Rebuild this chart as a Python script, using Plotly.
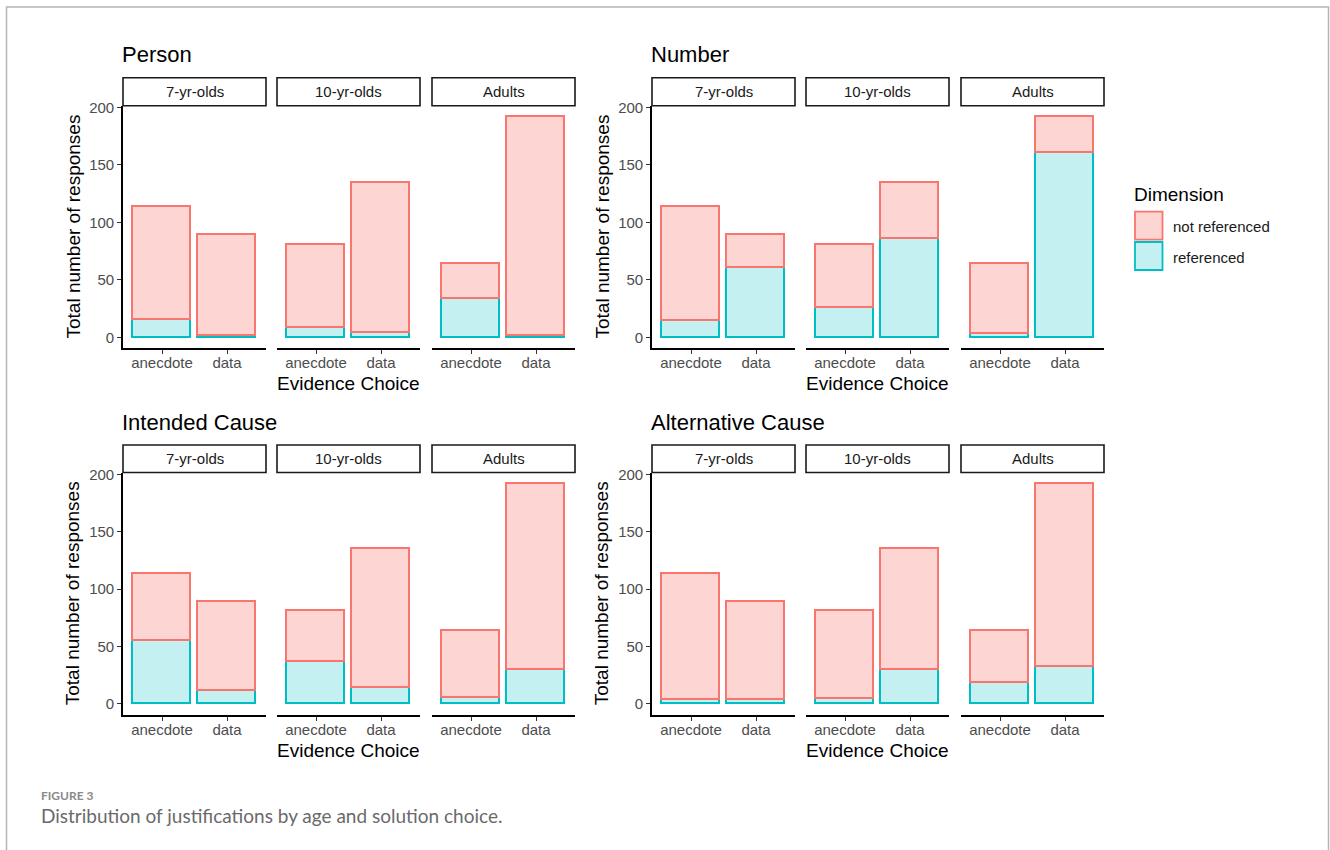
import plotly.graph_objects as go

# ---------------- data ----------------
panels = ["Person", "Number", "Intended Cause", "Alternative Cause"]
age_groups = ["7-yr-olds", "10-yr-olds", "Adults"]
evidence = ["anecdote", "data"]
legend_labels = ["not referenced", "referenced"]

# total responses per age group, [anecdote, data]
totals = {
    "7-yr-olds": [114, 89],
    "10-yr-olds": [81, 135],
    "Adults": [64, 192],
}

# number of "referenced" responses per panel / age group, [anecdote, data]
ref_person = {"7-yr-olds": [15, 1], "10-yr-olds": [8, 4], "Adults": [34, 1]}
ref_number = {"7-yr-olds": [14, 61], "10-yr-olds": [26, 86], "Adults": [3, 161]}
ref_intended = {"7-yr-olds": [55, 12], "10-yr-olds": [37, 14], "Adults": [6, 30]}
ref_alternative = {"7-yr-olds": [4, 4], "10-yr-olds": [5, 30], "Adults": [19, 33]}
referenced = [ref_person, ref_number, ref_intended, ref_alternative]

y_ticks = [0, 50, 100, 150, 200]

# ---------------- styling ----------------
W, H = 1330, 850
RED_LINE = "#F8766D"
RED_FILL = "rgba(248,118,109,0.30)"
CYAN_LINE = "#00BFC4"
CYAN_FILL = "rgba(0,191,196,0.23)"
FONT = "Liberation Sans, Arial, sans-serif"
TICK_COLOR = "#4d4d4d"


def px(x):
    return x / W


def py(y):
    return 1 - y / H


# pixel layout (top, bottom)
col_facets = [[(123, 266), (277, 420), (432, 575)],
              [(652, 795), (806, 949), (961, 1104)]]
row_plot = [(105.7, 348.3), (472.5, 715)]
row_strip = [(77.7, 105.7), (445, 472.5)]
row_title_y = [55, 422.5]
xtitle_y = [383, 750]

fig = go.Figure()
layout_axes = {}
shapes = []
annotations = []

for p, panel in enumerate(panels):
    row, col = divmod(p, 2)
    for f, age in enumerate(age_groups):
        k = p * 3 + f + 1
        xa = "x" if k == 1 else f"x{k}"
        ya = "y" if k == 1 else f"y{k}"
        x0, x1 = col_facets[col][f]
        ytop, ybot = row_plot[row]
        tot = totals[age]
        ref = referenced[p][age]
        notref = [t - r for t, r in zip(tot, ref)]

        fig.add_trace(go.Bar(
            x=evidence, y=ref, xaxis=xa, yaxis=ya, width=0.9,
            name=legend_labels[1], showlegend=False,
            marker=dict(color=CYAN_FILL, line=dict(color=CYAN_LINE, width=1.6)),
        ))
        fig.add_trace(go.Bar(
            x=evidence, y=notref, xaxis=xa, yaxis=ya, width=0.9,
            name=legend_labels[0], showlegend=False,
            marker=dict(color=RED_FILL, line=dict(color=RED_LINE, width=1.6)),
        ))

        xkey = "xaxis" if k == 1 else f"xaxis{k}"
        ykey = "yaxis" if k == 1 else f"yaxis{k}"
        layout_axes[xkey] = dict(
            domain=[px(x0), px(x1)], anchor=ya, type="category",
            range=[-0.6, 1.6], showline=True, linecolor="black", linewidth=1.6,
            ticks="outside", ticklen=4, tickcolor="#333", tickwidth=1.2,
            tickfont=dict(family=FONT, size=15, color=TICK_COLOR),
            showgrid=False, zeroline=False, fixedrange=True, automargin=False,
        )
        ydict = dict(
            domain=[py(ybot), py(ytop)], anchor=xa, range=[-9.6, 201.6],
            showgrid=False, zeroline=False, fixedrange=True, automargin=False,
        )
        if f == 0:
            ydict.update(
                showline=True, linecolor="black", linewidth=1.6,
                ticks="outside", ticklen=4, tickcolor="#333", tickwidth=1.2,
                tickvals=y_ticks, tickfont=dict(family=FONT, size=15, color=TICK_COLOR),
            )
        else:
            ydict.update(showticklabels=False, showline=False, ticks="")
        layout_axes[ykey] = ydict

        # strip
        s0, s1 = row_strip[row]
        shapes.append(dict(type="rect", xref="paper", yref="paper",
                           x0=px(x0), x1=px(x1), y0=py(s1), y1=py(s0),
                           line=dict(color="#1a1a1a", width=1.6), fillcolor="white"))
        annotations.append(dict(text=age, xref="paper", yref="paper",
                                x=px((x0 + x1) / 2), y=py((s0 + s1) / 2),
                                showarrow=False, xanchor="center", yanchor="middle",
                                font=dict(family=FONT, size=15, color="#1a1a1a")))

    # panel title
    fx0 = col_facets[col][0][0]
    annotations.append(dict(text=panel, xref="paper", yref="paper",
                            x=px(fx0 - 3), y=py(row_title_y[row]),
                            showarrow=False, xanchor="left", yanchor="middle",
                            font=dict(family=FONT, size=22, color="black")))
    # x title
    mx0, mx1 = col_facets[col][1]
    annotations.append(dict(text="Evidence Choice", xref="paper", yref="paper",
                            x=px((mx0 + mx1) / 2), y=py(xtitle_y[row]),
                            showarrow=False, xanchor="center", yanchor="middle",
                            font=dict(family=FONT, size=19, color="black")))
    # y title
    ytop, ybot = row_plot[row]
    annotations.append(dict(text="Total number of responses", xref="paper", yref="paper",
                            x=px(fx0 - 50.5), y=py((ytop + ybot) / 2), textangle=-90,
                            showarrow=False, xanchor="center", yanchor="middle",
                            font=dict(family=FONT, size=19, color="black")))

# legend (drawn)
annotations.append(dict(text="Dimension", xref="paper", yref="paper",
                        x=px(1132), y=py(194), showarrow=False,
                        xanchor="left", yanchor="middle",
                        font=dict(family=FONT, size=19, color="black")))
leg_items = [(legend_labels[0], RED_FILL, RED_LINE, 211.7, 226.7),
             (legend_labels[1], CYAN_FILL, CYAN_LINE, 242, 257)]
for lab, fill, line, ytop, ytext in leg_items:
    shapes.append(dict(type="rect", xref="paper", yref="paper",
                       x0=px(1135), x1=px(1162.5), y0=py(ytop + 28), y1=py(ytop),
                       line=dict(color=line, width=1.8), fillcolor=fill))
    annotations.append(dict(text=lab, xref="paper", yref="paper",
                            x=px(1171), y=py(ytext), showarrow=False,
                            xanchor="left", yanchor="middle",
                            font=dict(family=FONT, size=15, color="#1a1a1a")))

# caption
annotations.append(dict(text="<b>FIGURE 3</b>", xref="paper", yref="paper",
                        x=px(39), y=py(795), showarrow=False,
                        xanchor="left", yanchor="middle",
                        font=dict(family="Lato, sans-serif", size=12, color="#8a8a8a")))
annotations.append(dict(text="Distribution of justifications by age and solution choice.",
                        xref="paper", yref="paper",
                        x=px(39), y=py(815), showarrow=False,
                        xanchor="left", yanchor="middle",
                        font=dict(family="Lato, sans-serif", size=19, color="#6a6a6a")))

# outer frame
shapes.append(dict(type="rect", xref="paper", yref="paper",
                   x0=px(6.5), x1=px(1328.5), y0=py(860), y1=py(7),
                   line=dict(color="#b5b5b5", width=1.5), fillcolor="rgba(0,0,0,0)",
                   layer="below"))

fig.update_layout(
    width=W, height=H, margin=dict(l=0, r=0, t=0, b=0, pad=0, autoexpand=False),
    paper_bgcolor="white", plot_bgcolor="rgba(0,0,0,0)",
    barmode="stack", bargap=0, showlegend=False,
    shapes=shapes, annotations=annotations,
    font=dict(family=FONT),
    **layout_axes,
)

# pull the category labels slightly closer to the axis line (ggplot spacing)
try:
    fig.update_xaxes(ticklabelstandoff=-4)
except Exception:
    pass

post = (
    "document.documentElement.style.margin='0px';"
    "document.body.style.margin='0px';document.body.style.padding='0px';"
    "var gd=document.getElementById('{plot_id}');"
    "gd.style.position='absolute';gd.style.left='0px';gd.style.top='0px';"
)
fig.write_html("out.html", post_script=post, config={"displayModeBar": False})
